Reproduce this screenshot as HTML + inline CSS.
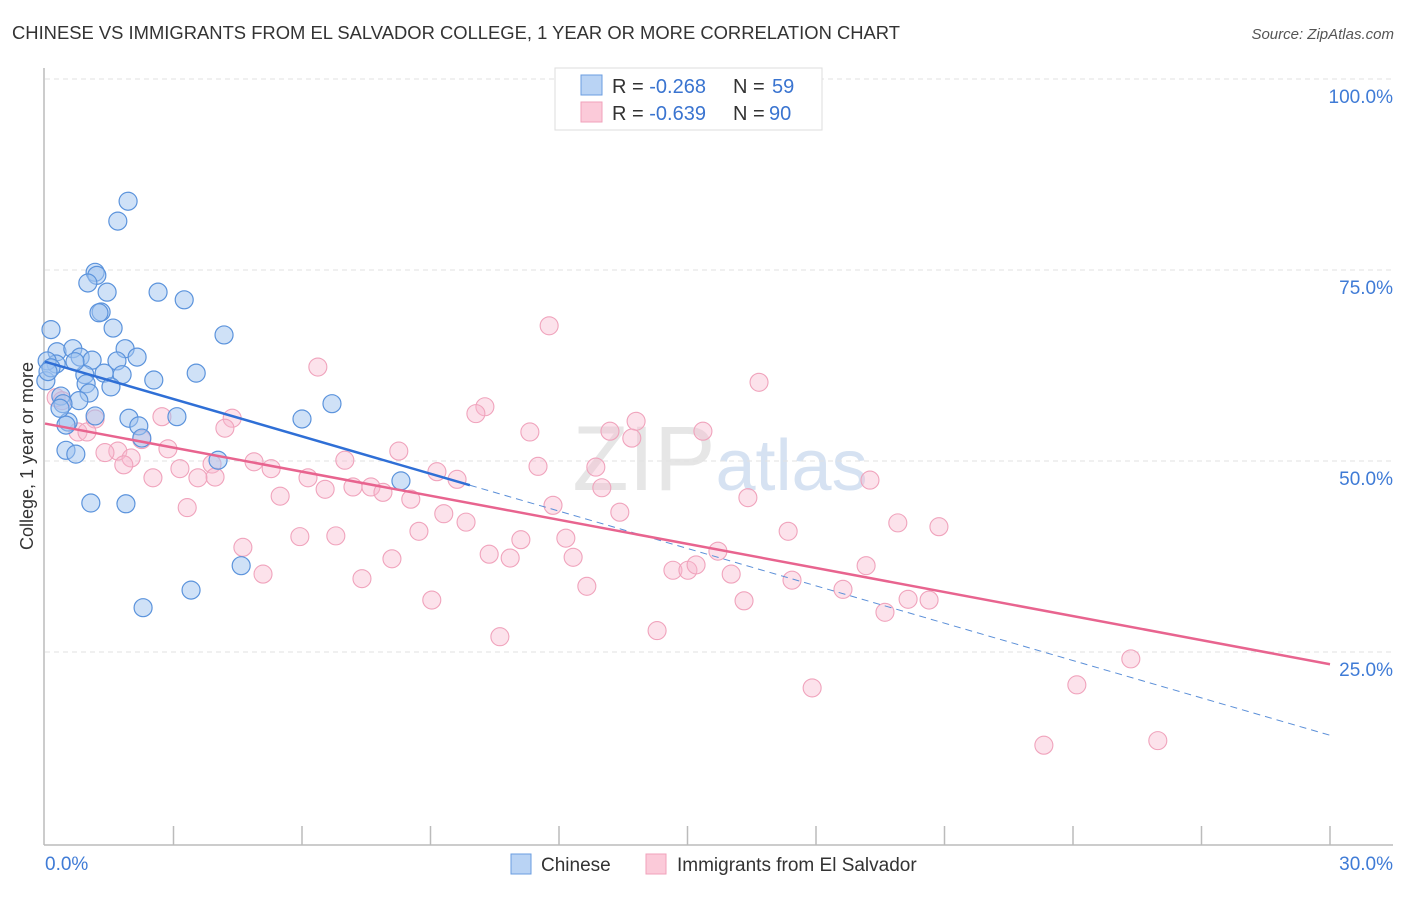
<!DOCTYPE html>
<html><head><meta charset="utf-8"><style>
body{margin:0;background:#fff;font-family:"Liberation Sans",sans-serif;}
svg text{font-family:"Liberation Sans",sans-serif;}
</style></head><body>
<svg id="chart" width="1406" height="892" xmlns="http://www.w3.org/2000/svg">
<text x="12" y="39" font-size="18" fill="#333" textLength="888" lengthAdjust="spacingAndGlyphs">CHINESE VS IMMIGRANTS FROM EL SALVADOR COLLEGE, 1 YEAR OR MORE CORRELATION CHART</text>
<text x="1394" y="39" font-size="15" fill="#555" text-anchor="end" font-style="italic">Source: ZipAtlas.com</text>
<text x="720" y="490" font-size="92" fill="#e6e6e6" text-anchor="middle" font-family="Liberation Serif">ZIP<tspan fill="#d6e2f2" font-family="Liberation Sans" font-size="72">atlas</tspan></text>
<g id="grid"></g>
<g id="axes"></g>
<g id="marks"></g>
<text transform="translate(33,456) rotate(-90)" font-size="18" fill="#333" text-anchor="middle">College, 1 year or more</text>
<g>
<rect x="555" y="68" width="267" height="62" fill="#fff" stroke="#ddd"/>
<rect x="581" y="75" width="21" height="20" fill="#b9d3f4" stroke="#6a9de0"/>
<rect x="581" y="102" width="21" height="20" fill="#fbcad9" stroke="#f0a2bb"/>
<text x="612" y="93" font-size="20" fill="#333">R = <tspan fill="#3a74d0">-0.268</tspan><tspan x="733">N = </tspan><tspan fill="#3a74d0" x="772">59</tspan></text>
<text x="612" y="120" font-size="20" fill="#333">R = <tspan fill="#3a74d0">-0.639</tspan><tspan x="733">N = </tspan><tspan fill="#3a74d0" x="769">90</tspan></text>
</g>
<g>
<rect x="511" y="854" width="20" height="20" fill="#b9d3f4" stroke="#6a9de0"/>
<text x="541" y="871" font-size="19" fill="#333">Chinese</text>
<rect x="646" y="854" width="20" height="20" fill="#fbcad9" stroke="#f0a2bb"/>
<text x="677" y="871" font-size="19" fill="#333">Immigrants from El Salvador</text>
</g>
</svg>
<script>
const yTicks=[100,75,50,25];
const yTickLabels=["100.0%","75.0%","50.0%","25.0%"];
const xTickCount=10;
const xLabels=["0.0%","30.0%"];
const chineseX=[1.94,1.70,1.17,1.21,1.00,1.45,2.64,3.25,1.31,1.26,1.59,0.14,4.18,0.28,0.65,0.82,1.10,1.87,2.15,1.68,0.26,3.53,1.38,1.80,2.54,0.93,0.96,0.02,1.54,1.03,0.37,0.79,0.42,6.70,1.96,3.08,6.00,1.17,2.19,0.54,0.49,2.26,0.49,0.72,4.04,8.31,1.07,1.89,4.58,3.41,2.29,0.05,0.14,0.35,0.70,0.07];
const chineseY=[84.0,81.4,74.7,74.3,73.3,72.1,72.1,71.1,69.5,69.4,67.4,67.2,66.5,64.3,64.7,63.6,63.2,64.7,63.6,63.1,62.7,61.5,61.5,61.3,60.6,61.3,60.1,60.5,59.7,58.9,58.5,57.9,57.5,57.5,55.6,55.8,55.5,55.9,54.6,55.1,54.7,53.0,51.4,50.9,50.1,47.4,44.5,44.4,36.3,33.1,30.8,63.1,62.2,56.9,63.0,61.7];
const salvX=[11.77,6.37,16.67,0.26,10.27,10.06,0.40,4.37,2.73,13.80,13.19,15.36,11.32,4.20,1.17,0.77,0.98,13.70,2.26,8.26,1.70,1.40,2.01,2.87,11.51,12.86,7.00,3.15,4.88,5.28,9.15,9.62,6.14,3.90,3.97,3.57,2.52,1.84,13.00,6.54,7.19,7.61,7.89,8.54,5.49,11.86,16.41,19.26,13.42,9.31,9.83,3.32,8.73,19.91,20.87,17.35,5.95,6.79,11.11,12.16,15.71,10.37,10.86,8.10,4.62,12.33,14.66,15.01,15.20,16.02,5.09,7.40,12.65,19.17,17.44,18.63,20.15,20.64,9.03,16.32,19.61,14.29,10.62,25.35,17.91,24.09,23.32,25.98];
const salvY=[67.7,62.3,60.3,58.3,57.1,56.2,57.9,55.6,55.8,55.2,53.9,53.9,53.8,54.3,55.5,53.8,53.8,53.0,52.8,51.3,51.3,51.1,50.4,51.6,49.3,49.2,50.1,49.0,49.9,49.0,48.6,47.6,47.8,49.6,47.9,47.8,47.8,49.5,46.5,46.3,46.6,46.6,45.9,45.0,45.4,44.2,45.2,47.5,43.3,43.1,42.0,43.9,40.8,41.9,41.4,40.8,40.1,40.2,39.7,39.9,38.2,37.8,37.3,37.2,38.7,37.4,35.7,35.7,36.4,35.2,35.2,34.6,33.6,36.3,34.4,33.2,31.9,31.8,31.8,31.7,30.2,27.8,27.0,24.1,20.3,20.7,12.8,13.4];
const chineseTrend=[63.0,14.1];
const chineseSolidEnd=9.92;
const salvTrend=[54.9,23.4];

const NS="http://www.w3.org/2000/svg";
const X=v=>45+v/30*1285;
const Y=v=>843-v/100*764;
function mk(tag,attrs,parent){const e=document.createElementNS(NS,tag);for(const k in attrs)e.setAttribute(k,attrs[k]);parent.appendChild(e);return e;}
const grid=document.getElementById('grid'),axes=document.getElementById('axes'),marks=document.getElementById('marks');
yTicks.forEach((t,i)=>{
 const l=mk('line',{x1:45,x2:1393,y1:Y(t),y2:Y(t),stroke:'#e2e2e2','stroke-dasharray':'5,4'},grid);
 
 
 const tx=mk('text',{x:1393,y:Y(t)+24,'font-size':19,fill:'#3f7bd6','text-anchor':'end'},axes);
 tx.textContent=yTickLabels[i];
 
 
});
const ax=mk('line',{x1:44,x2:44,y1:68,y2:845,stroke:'#bbb','stroke-width':1.5},axes);


const bx=mk('line',{x1:44,x2:1393,y1:845,y2:845,stroke:'#bbb','stroke-width':1.5},axes);


for(let i=1;i<=xTickCount;i++){
 const t=mk('line',{x1:X(i*3),x2:X(i*3),y1:826,y2:845,stroke:'#bbb','stroke-width':1.5},axes);
 
 
}
const xl0=mk('text',{x:45,y:870,'font-size':19,fill:'#3f7bd6'},axes);xl0.textContent=xLabels[0];


const xl1=mk('text',{x:1393,y:870,'font-size':19,fill:'#3f7bd6','text-anchor':'end'},axes);xl1.textContent=xLabels[1];



salvX.forEach((x,i)=>{
 const c=mk('circle',{cx:X(x),cy:Y(salvY[i]),r:9,fill:'rgba(248,182,204,0.4)',stroke:'#f0a3bc','stroke-width':1.1},marks);
 
 
});
chineseX.forEach((x,i)=>{
 const c=mk('circle',{cx:X(x),cy:Y(chineseY[i]),r:9,fill:'rgba(160,196,240,0.5)',stroke:'#5b93dc','stroke-width':1.2},marks);
 
 
});
const cy=x=>chineseTrend[0]+(chineseTrend[1]-chineseTrend[0])*x/30;
const t1=mk('line',{x1:X(0),y1:Y(cy(0)),x2:X(chineseSolidEnd),y2:Y(cy(chineseSolidEnd)),stroke:'#2f6fd6','stroke-width':2.5},marks);


const t2=mk('line',{x1:X(chineseSolidEnd),y1:Y(cy(chineseSolidEnd)),x2:X(30),y2:Y(cy(30)),stroke:'#5b8fd8','stroke-width':1,'stroke-dasharray':'7,5'},marks);


const t3=mk('line',{x1:X(0),y1:Y(salvTrend[0]),x2:X(30),y2:Y(salvTrend[1]),stroke:'#e8648f','stroke-width':2.5},marks);


</script>
</body></html>
